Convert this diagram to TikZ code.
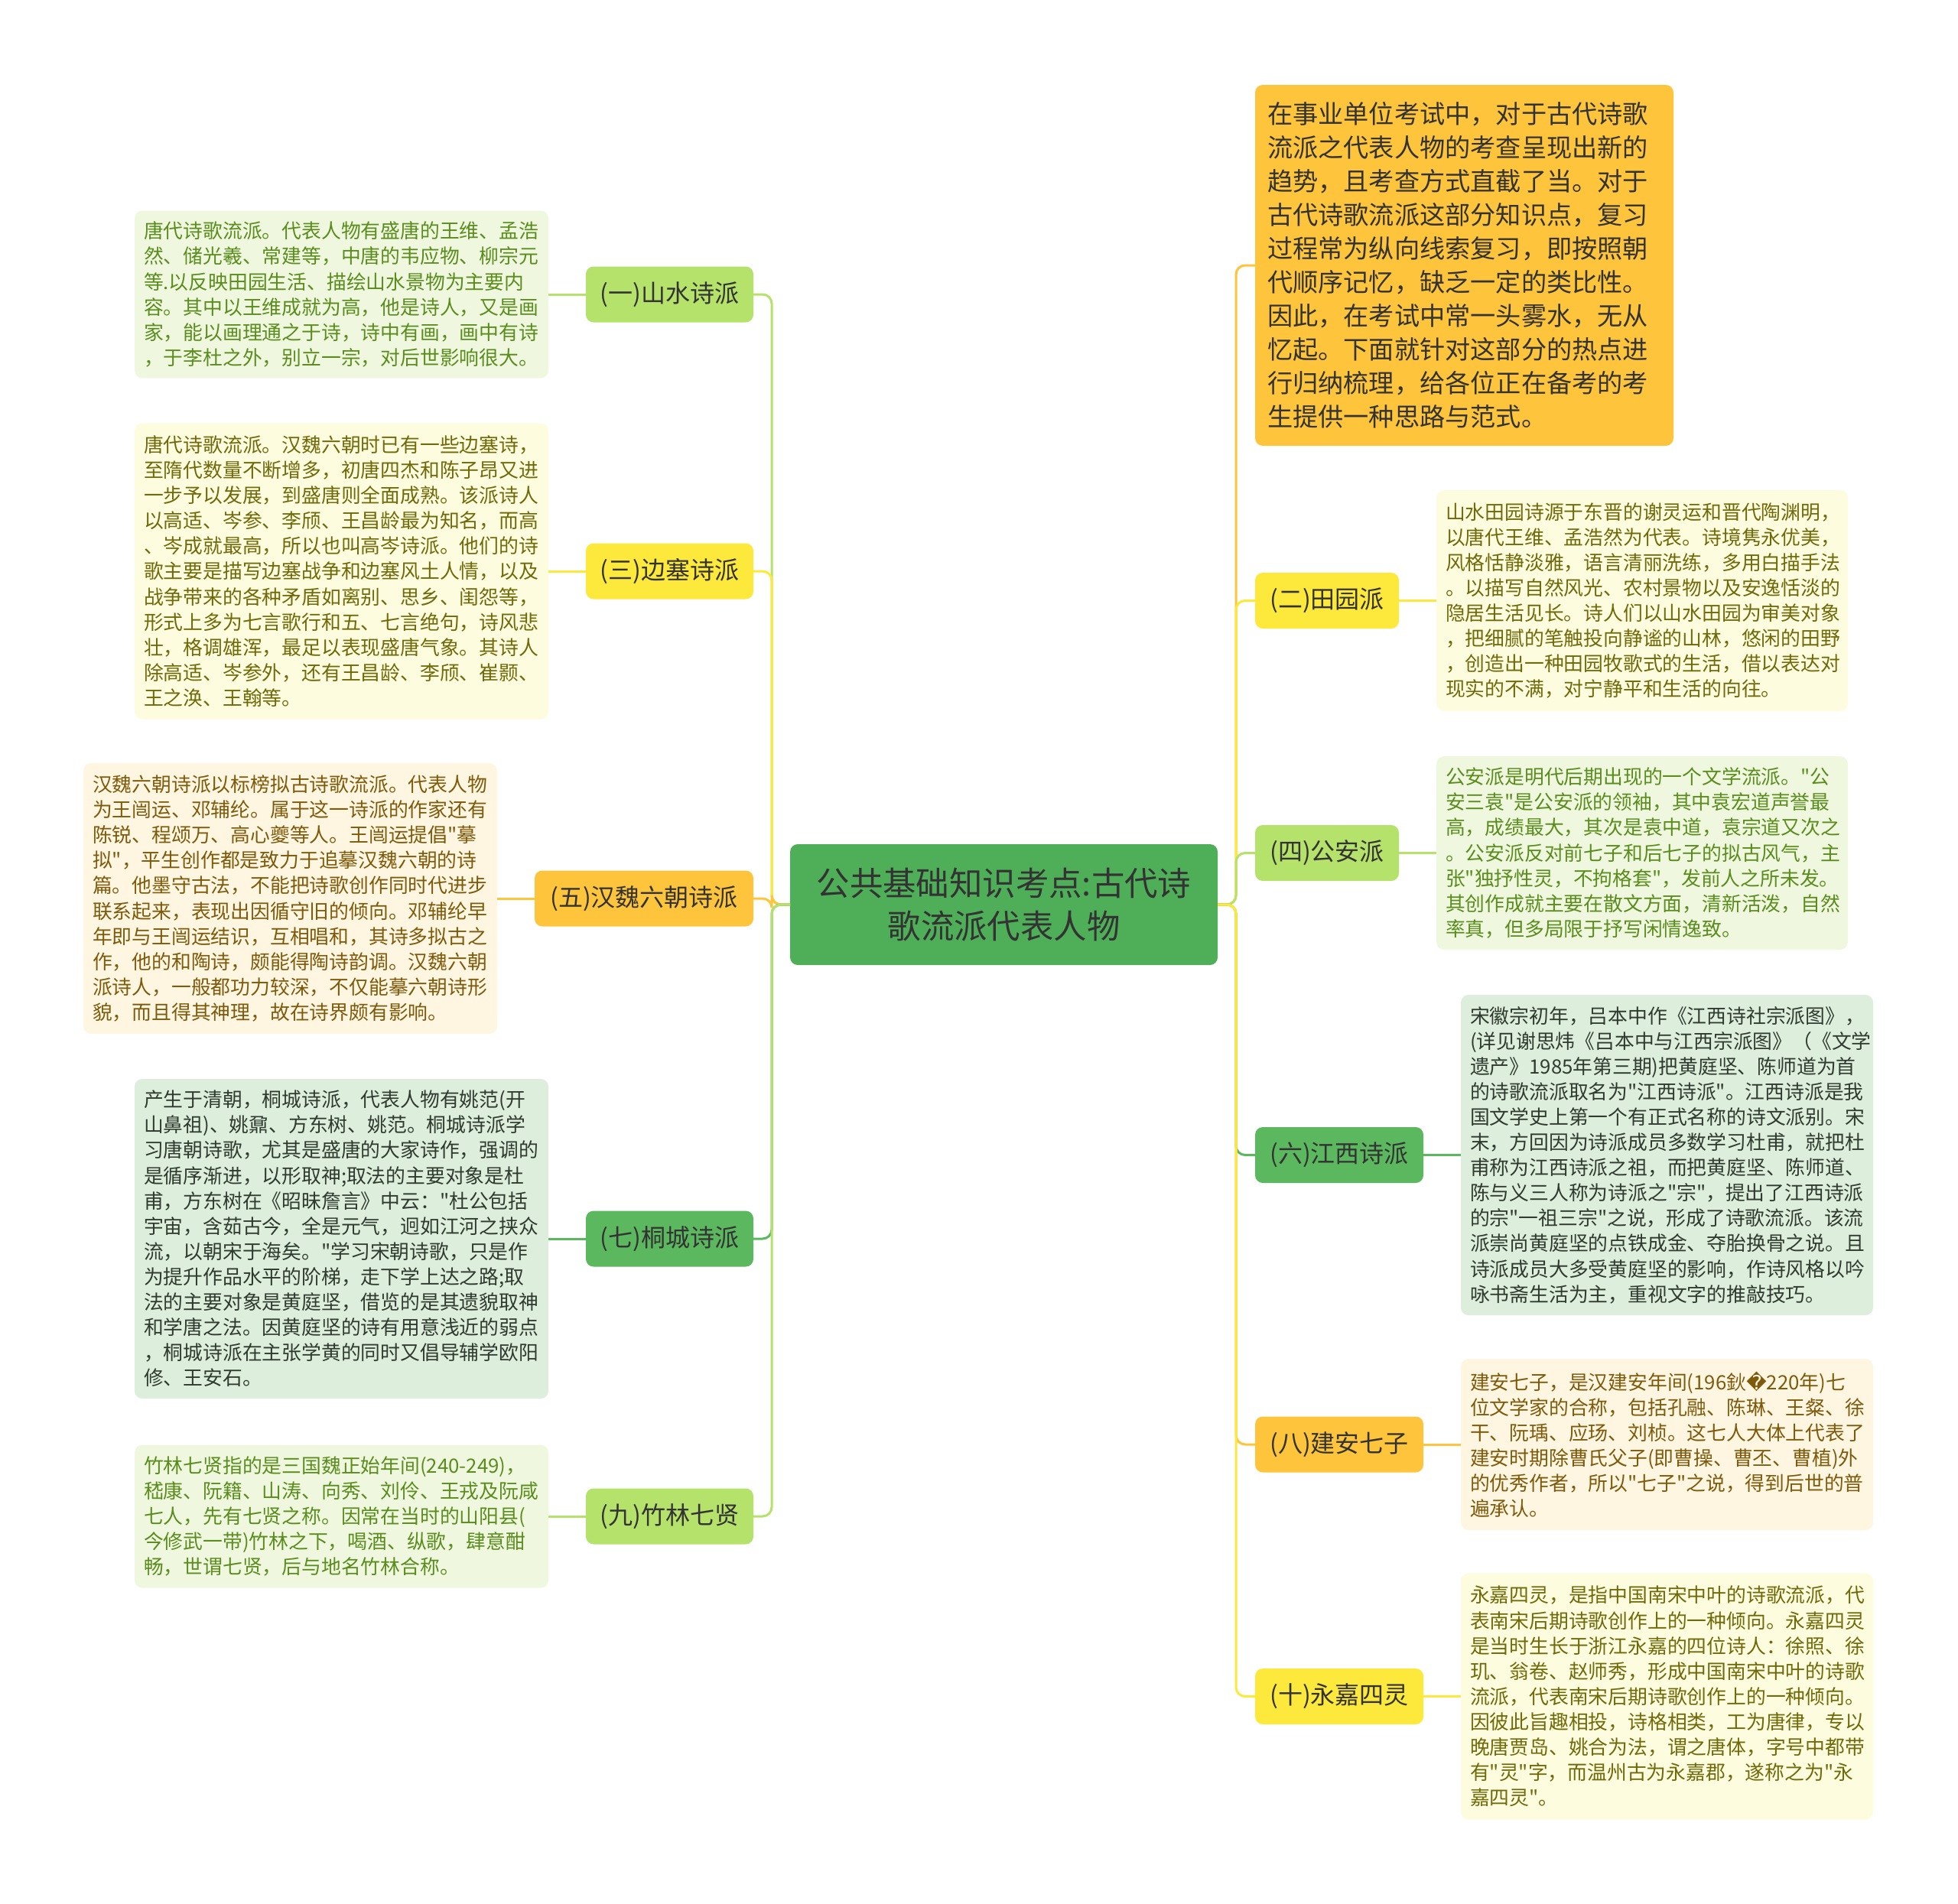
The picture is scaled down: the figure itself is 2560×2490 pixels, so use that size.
\documentclass[tikz,border=0pt]{standalone}
\usepackage{fontspec}
\setmainfont{Noto Sans CJK SC}[Ligatures=TeXOff]
\newfontfamily\dejavu{DejaVu Sans}
\definecolor{cLG}{HTML}{B4E26A}
\definecolor{cYe}{HTML}{FDE83C}
\definecolor{cOr}{HTML}{FDC43C}
\definecolor{cGr}{HTML}{5CB85F}
\definecolor{cCen}{HTML}{4FAE58}
\definecolor{fLG}{HTML}{EFF8DF}
\definecolor{tLG}{HTML}{5B8C1E}
\definecolor{fYe}{HTML}{FEFCDE}
\definecolor{tYe}{HTML}{6F6A0A}
\definecolor{fOr}{HTML}{FEF6E0}
\definecolor{tOr}{HTML}{7D5A0C}
\definecolor{fGr}{HTML}{DDEEDD}
\definecolor{tGr}{HTML}{2E3B2E}
\definecolor{txt}{HTML}{333333}
\tikzset{
  base/.style={rounded corners=5pt, inner sep=0pt, outer sep=0pt},
  central/.style={base, fill=cCen, text=txt, align=center, minimum width=279.5pt, minimum height=79pt, font=\fontsize{21.7pt}{27.8pt}\selectfont},
  cat/.style={base, minimum height=36.5pt, text=txt, font=\fontsize{16pt}{18pt}\selectfont},
  desc/.style={base, align=left, inner xsep=6pt, font=\fontsize{12.9pt}{16.55pt}\selectfont},
  intro/.style={base, align=left, inner xsep=8pt, fill=cOr, text=txt, font=\fontsize{16.6pt}{22pt}\selectfont},
  link/.style={line width=1.5pt, rounded corners=6pt},
}
\begin{document}
\begin{tikzpicture}[x=0.5pt,y=-0.5pt]
\useasboundingbox (0,0) rectangle (2560,2490);

% central
\node[central] (c) at (1312.5,1183) {公共基础知识考点:古代诗\\歌流派代表人物};

% left categories
\node[cat, fill=cLG, minimum width=109.5pt] (l1) at (875.5,385) {(一)山水诗派};
\node[cat, fill=cYe, minimum width=109.5pt] (l3) at (875.5,747) {(三)边塞诗派};
\node[cat, fill=cOr, minimum width=143pt] (l5) at (842,1175) {(五)汉魏六朝诗派};
\node[cat, fill=cGr, minimum width=109.5pt] (l7) at (875.5,1620) {(七)桐城诗派};
\node[cat, fill=cLG, minimum width=109.5pt] (l9) at (875.5,1983) {(九)竹林七贤};

% right categories
\node[intro, text width=257.5pt, minimum height=236pt, anchor=west] (intro) at (1641,347) {在事业单位考试中，对于古代诗歌\\流派之代表人物的考查呈现出新的\\趋势，且考查方式直截了当。对于\\古代诗歌流派这部分知识点，复习\\过程常为纵向线索复习，即按照朝\\代顺序记忆，缺乏一定的类比性。\\因此，在考试中常一头雾水，无从\\忆起。下面就针对这部分的热点进\\行归纳梳理，给各位正在备考的考\\生提供一种思路与范式。};
\node[cat, fill=cYe, minimum width=94pt] (r2) at (1735,785.5) {(二)田园派};
\node[cat, fill=cLG, minimum width=94pt] (r4) at (1735,1115.5) {(四)公安派};
\node[cat, fill=cGr, minimum width=110pt] (r6) at (1751,1510.5) {(六)江西诗派};
\node[cat, fill=cOr, minimum width=110pt] (r8) at (1751,1889) {(八)建安七子};
\node[cat, fill=cYe, minimum width=110pt] (r10) at (1751,2218.5) {(十)永嘉四灵};

% left descriptions
\node[desc, fill=fLG, text=tLG, text width=258.5pt, minimum height=109.5pt, anchor=east] (d1) at (717,385) {唐代诗歌流派。代表人物有盛唐的王维、孟浩\\然、储光羲、常建等，中唐的韦应物、柳宗元\\等.以反映田园生活、描绘山水景物为主要内\\容。其中以王维成就为高，他是诗人，又是画\\家，能以画理通之于诗，诗中有画，画中有诗\\，于李杜之外，别立一宗，对后世影响很大。};
\node[desc, fill=fYe, text=tYe, text width=258.5pt, minimum height=193.5pt, anchor=east] (d3) at (717,747) {唐代诗歌流派。汉魏六朝时已有一些边塞诗，\\至隋代数量不断增多，初唐四杰和陈子昂又进\\一步予以发展，到盛唐则全面成熟。该派诗人\\以高适、岑参、李颀、王昌龄最为知名，而高\\、岑成就最高，所以也叫高岑诗派。他们的诗\\歌主要是描写边塞战争和边塞风土人情，以及\\战争带来的各种矛盾如离别、思乡、闺怨等，\\形式上多为七言歌行和五、七言绝句，诗风悲\\壮，格调雄浑，最足以表现盛唐气象。其诗人\\除高适、岑参外，还有王昌龄、李颀、崔颢、\\王之涣、王翰等。};
\node[desc, fill=fOr, text=tOr, text width=258.5pt, minimum height=177pt, anchor=east] (d5) at (650,1175) {汉魏六朝诗派以标榜拟古诗歌流派。代表人物\\为王闿运、邓辅纶。属于这一诗派的作家还有\\陈锐、程颂万、高心夔等人。王闿运提倡"摹\\拟"，平生创作都是致力于追摹汉魏六朝的诗\\篇。他墨守古法，不能把诗歌创作同时代进步\\联系起来，表现出因循守旧的倾向。邓辅纶早\\年即与王闿运结识，互相唱和，其诗多拟古之\\作，他的和陶诗，颇能得陶诗韵调。汉魏六朝\\派诗人，一般都功力较深，不仅能摹六朝诗形\\貌，而且得其神理，故在诗界颇有影响。};
\node[desc, fill=fGr, text=tGr, text width=258.5pt, minimum height=209pt, anchor=east] (d7) at (717,1620) {产生于清朝，桐城诗派，代表人物有姚范(开\\山鼻祖)、姚鼐、方东树、姚范。桐城诗派学\\习唐朝诗歌，尤其是盛唐的大家诗作，强调的\\是循序渐进，以形取神;取法的主要对象是杜\\甫，方东树在《昭昧詹言》中云："杜公包括\\宇宙，含茹古今，全是元气，迥如江河之挟众\\流，以朝宋于海矣。"学习宋朝诗歌，只是作\\为提升作品水平的阶梯，走下学上达之路;取\\法的主要对象是黄庭坚，借览的是其遗貌取神\\和学唐之法。因黄庭坚的诗有用意浅近的弱点\\，桐城诗派在主张学黄的同时又倡导辅学欧阳\\修、王安石。};
\node[desc, fill=fLG, text=tLG, text width=258.5pt, minimum height=93.5pt, anchor=east] (d9) at (717,1983) {竹林七贤指的是三国魏正始年间(240-249)，\\嵇康、阮籍、山涛、向秀、刘伶、王戎及阮咸\\七人，先有七贤之称。因常在当时的山阳县(\\今修武一带)竹林之下，喝酒、纵歌，肆意酣\\畅，世谓七贤，后与地名竹林合称。};

% right descriptions
\node[desc, fill=fYe, text=tYe, text width=257pt, minimum height=144.5pt, anchor=west] (d2) at (1878,785.5) {山水田园诗源于东晋的谢灵运和晋代陶渊明，\\以唐代王维、孟浩然为代表。诗境隽永优美，\\风格恬静淡雅，语言清丽洗练，多用白描手法\\。以描写自然风光、农村景物以及安逸恬淡的\\隐居生活见长。诗人们以山水田园为审美对象\\，把细腻的笔触投向静谧的山林，悠闲的田野\\，创造出一种田园牧歌式的生活，借以表达对\\现实的不满，对宁静平和生活的向往。};
\node[desc, fill=fLG, text=tLG, text width=257pt, minimum height=126.5pt, anchor=west] (d4) at (1878,1115.5) {公安派是明代后期出现的一个文学流派。"公\\安三袁"是公安派的领袖，其中袁宏道声誉最\\高，成绩最大，其次是袁中道，袁宗道又次之\\。公安派反对前七子和后七子的拟古风气，主\\张"独抒性灵，不拘格套"，发前人之所未发。\\其创作成就主要在散文方面，清新活泼，自然\\率真，但多局限于抒写闲情逸致。};
\node[desc, fill=fGr, text=tGr, text width=257.5pt, minimum height=209.5pt, anchor=west] (d6) at (1910,1510.5) {宋徽宗初年，吕本中作《江西诗社宗派图》，\\(详见谢思炜《吕本中与江西宗派图》（《文学\\遗产》1985年第三期)把黄庭坚、陈师道为首\\的诗歌流派取名为"江西诗派"。江西诗派是我\\国文学史上第一个有正式名称的诗文派别。宋\\末，方回因为诗派成员多数学习杜甫，就把杜\\甫称为江西诗派之祖，而把黄庭坚、陈师道、\\陈与义三人称为诗派之"宗"，提出了江西诗派\\的宗"一祖三宗"之说，形成了诗歌流派。该流\\派崇尚黄庭坚的点铁成金、夺胎换骨之说。且\\诗派成员大多受黄庭坚的影响，作诗风格以吟\\咏书斋生活为主，重视文字的推敲技巧。};
\node[desc, fill=fOr, text=tOr, text width=257.5pt, minimum height=112pt, anchor=west] (d8) at (1910,1889) {建安七子，是汉建安年间(196鈥{\dejavu ^^^^fffd}220年)七\\位文学家的合称，包括孔融、陈琳、王粲、徐\\干、阮瑀、应玚、刘桢。这七人大体上代表了\\建安时期除曹氏父子(即曹操、曹丕、曹植)外\\的优秀作者，所以"七子"之说，得到后世的普\\遍承认。};
\node[desc, fill=fYe, text=tYe, text width=257.5pt, minimum height=161pt, anchor=west] (d10) at (1910,2218.5) {永嘉四灵，是指中国南宋中叶的诗歌流派，代\\表南宋后期诗歌创作上的一种倾向。永嘉四灵\\是当时生长于浙江永嘉的四位诗人：徐照、徐\\玑、翁卷、赵师秀，形成中国南宋中叶的诗歌\\流派，代表南宋后期诗歌创作上的一种倾向。\\因彼此旨趣相投，诗格相类，工为唐律，专以\\晚唐贾岛、姚合为法，谓之唐体，字号中都带\\有"灵"字，而温州古为永嘉郡，遂称之为"永\\嘉四灵"。};

% trunk connectors (left)
\draw[link, cLG] (c.west) -- ++(-12pt,0) |- (l1.east);
\draw[link, cYe] (c.west) -- ++(-12pt,0) |- (l3.east);
\draw[link, cOr] (c.west) -- ++(-12pt,0) |- (l5.east);
\draw[link, cGr] (c.west) -- ++(-12pt,0) |- (l7.east);
\draw[link, cLG] (c.west) -- ++(-12pt,0) |- (l9.east);
% trunk connectors (right)
\draw[link, cOr] (c.east) -- ++(12pt,0) |- (intro.west);
\draw[link, cYe] (c.east) -- ++(12pt,0) |- (r2.west);
\draw[link, cLG] (c.east) -- ++(12pt,0) |- (r4.west);
\draw[link, cGr] (c.east) -- ++(12pt,0) |- (r6.west);
\draw[link, cOr] (c.east) -- ++(12pt,0) |- (r8.west);
\draw[link, cYe] (c.east) -- ++(12pt,0) |- (r10.west);

% description links
\draw[link, cLG] (l1.west) -- (d1.east);
\draw[link, cYe] (l3.west) -- (d3.east);
\draw[link, cOr] (l5.west) -- (d5.east);
\draw[link, cGr] (l7.west) -- (d7.east);
\draw[link, cLG] (l9.west) -- (d9.east);
\draw[link, cYe] (r2.east) -- (d2.west);
\draw[link, cLG] (r4.east) -- (d4.west);
\draw[link, cGr] (r6.east) -- (d6.west);
\draw[link, cOr] (r8.east) -- (d8.west);
\draw[link, cYe] (r10.east) -- (d10.west);
\end{tikzpicture}
\end{document}
